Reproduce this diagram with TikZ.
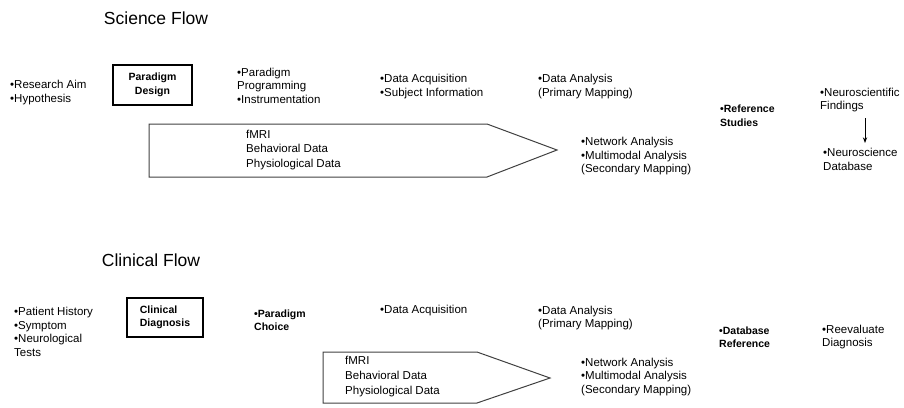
\documentclass[tikz,border=0pt]{standalone}
\usepackage{fontspec}
\setmainfont{Liberation Sans}
\usepackage{tikz}
\usetikzlibrary{arrows.meta}
\tikzset{
  txt/.style={anchor=west,align=left,inner sep=0pt,font=\fontsize{11.5}{13.5}\selectfont},
  boldtxt/.style={txt,font=\bfseries\fontsize{10.5}{13.5}\selectfont},
  stagebox/.style={draw,line width=1.3pt,inner sep=0pt,font=\bfseries\fontsize{10.5}{13.5}\selectfont},
  flowtitle/.style={font=\fontsize{17.5}{20}\selectfont},
  bigarrow/.style={draw=black!75,line width=1pt},
  downarrow/.style={-{Stealth[length=2mm]},thick}
}

\begin{document}
\begin{tikzpicture}[x=1pt,y=-1pt]
    \useasboundingbox (0,0) rectangle (904,407);
    % science flow
    \node[flowtitle] (sci) at (156,18) {Science Flow};
    \node[txt] (aim) at (10,92.5) {•Research Aim\\•Hypothesis};
    \node[stagebox,align=center,minimum width=79pt,minimum height=40pt] (design) at (152.5,85) {Paradigm\\Design};
    \node[txt] (prog) at (237,85.5) {•Paradigm\\Programming\\•Instrumentation};
    \node[txt] (acq) at (380,86.5) {•Data Acquisition\\•Subject Information};
    \node[txt] (ana) at (538,86.5) {•Data Analysis\\(Primary Mapping)};
    \draw[bigarrow] (149,124) -- (487,124) -- (557,150) -- (487,177) -- (149,177) -- cycle;
    \node[txt,font=\fontsize{11.5}{14.5}\selectfont] (data) at (246,150) {fMRI\\Behavioral Data\\Physiological Data};
    \node[txt] (net) at (581,156.5) {•Network Analysis\\•Multimodal Analysis\\(Secondary Mapping)};
    \node[boldtxt] (ref) at (720,115.5) {•Reference\\Studies};
    \node[txt] (find) at (820,100) {•Neuroscientific\\Findings};
    \node[txt] (ndb) at (823,159.5) {•Neuroscience\\Database};
    \coordinate (top) at (865,118);
    \coordinate (bot) at (865,143);
    \draw[downarrow] (top) -- (bot);

    % clinical flow
    \node[flowtitle] (cli) at (151,260) {Clinical Flow};
    \node[txt] (hist) at (14,332) {•Patient History\\•Symptom\\•Neurological\\Tests};
    \node[stagebox,align=left,minimum width=76pt,minimum height=39pt] (diag) at (165,317.5) {Clinical\\Diagnosis};
    \node[boldtxt] (choice) at (254,320) {•Paradigm\\Choice};
    \node[txt] (acq2) at (380,311) {•Data Acquisition};
    \node[txt] (ana2) at (538,318) {•Data Analysis\\(Primary Mapping)};
    \draw[bigarrow] (323,352) -- (477,352) -- (550,378) -- (477,403) -- (323,403) -- cycle;
    \node[txt,font=\fontsize{11.5}{15}\selectfont] (data2) at (345,377) {fMRI\\Behavioral Data\\Physiological Data};
    \node[txt] (net2) at (581,377) {•Network Analysis\\•Multimodal Analysis\\(Secondary Mapping)};
    \node[boldtxt] (dbref) at (719,337) {•Database\\Reference};
    \node[txt] (reeval) at (822,337) {•Reevaluate\\Diagnosis};
\end{tikzpicture}
\end{document}
